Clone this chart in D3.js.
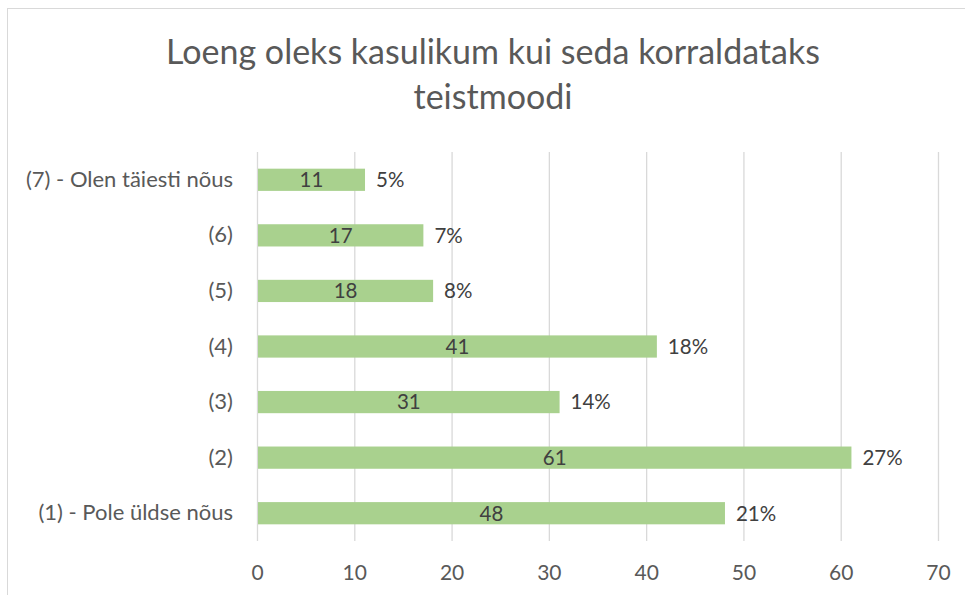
<html>
<head>
<meta charset="utf-8">
<style>
  body { margin: 0; background: #fff; }
  text { font-family: Lato, "Open Sans", sans-serif; }
</style>
</head>
<body>
<script src="https://d3js.org/d3.v7.min.js"></script>
<div id="chart"></div>
<script>
// data
var categories = ["(7) - Olen täiesti nõus", "(6)", "(5)", "(4)", "(3)", "(2)", "(1) - Pole üldse nõus"];
var counts = [11, 17, 18, 41, 31, 61, 48];
var percents = ["5%", "7%", "8%", "18%", "14%", "27%", "21%"];
var xTicks = [0, 10, 20, 30, 40, 50, 60, 70];
var titleLines = ["Loeng oleks kasulikum kui seda korraldataks", "teistmoodi"];

var W = 965, H = 595;
var margin = { top: 152, right: 27, bottom: 54, left: 257 },
    width = W - margin.left - margin.right,
    height = H - margin.top - margin.bottom;

var rows = categories.map(function (c, i) {
    return { cat: c, value: counts[i], pct: percents[i] };
});

var root = d3.select("#chart").append("svg")
    .attr("width", W)
    .attr("height", H);

// chart frame (cut off on the right and bottom in the reference)
root.append("rect")
    .attr("x", 7.5).attr("y", 8.5)
    .attr("width", W + 10).attr("height", H + 10)
    .attr("fill", "none")
    .attr("stroke", "#d9d9d9")
    .attr("stroke-width", 1);

root.selectAll(".title")
    .data(titleLines)
    .enter()
    .append("text")
    .attr("class", "title")
    .attr("x", 493)
    .attr("y", function (d, i) { return 64 + i * 45; })
    .attr("text-anchor", "middle")
    .attr("font-size", 34)
    .attr("fill", "#595959")
    .text(function (d) { return d; });

var svg = root.append("g")
    .attr("transform", "translate(" + margin.left + "," + margin.top + ")");

var x = d3.scaleLinear()
    .domain([0, 70])
    .range([0, 681]);

var y = d3.scaleBand()
    .domain(categories)
    .range([0, 389])
    .paddingInner(0.6)
    .paddingOuter(0.3);

// gridlines
svg.selectAll(".grid")
    .data(xTicks)
    .enter()
    .append("line")
    .attr("x1", function (d) { return x(d) + 0.5; })
    .attr("x2", function (d) { return x(d) + 0.5; })
    .attr("y1", 0)
    .attr("y2", 389)
    .attr("stroke", "#d9d9d9")
    .attr("stroke-width", 1.3);

// x axis labels
var xAxis = svg.append("g")
    .attr("transform", "translate(0,389)")
    .call(d3.axisBottom(x).tickValues(xTicks).tickSize(0).tickPadding(24));
xAxis.select(".domain").remove();
xAxis.selectAll("text")
    .attr("font-size", 21)
    .attr("fill", "#595959")
    .style("font-family", "Lato, sans-serif");

// y axis labels
var yAxis = svg.append("g")
    .call(d3.axisLeft(y).tickSize(0).tickPadding(24));
yAxis.select(".domain").remove();
yAxis.selectAll("text")
    .attr("font-size", 22)
    .attr("fill", "#595959")
    .style("font-family", "Lato, sans-serif");

// bars
svg.selectAll(".bar")
    .data(rows)
    .enter()
    .append("rect")
    .attr("class", "bar")
    .attr("x", x(0) + 1)
    .attr("y", function (d) { return y(d.cat); })
    .attr("width", function (d) { return x(d.value) - x(0); })
    .attr("height", y.bandwidth())
    .attr("fill", "#a9d18e");

// value inside bar
svg.selectAll(".val")
    .data(rows)
    .enter()
    .append("text")
    .attr("x", function (d) { return x(d.value / 2) + 1; })
    .attr("y", function (d) { return y(d.cat) + y.bandwidth() / 2; })
    .attr("dy", "0.36em")
    .attr("text-anchor", "middle")
    .attr("font-size", 20.5)
    .attr("fill", "#404040")
    .text(function (d) { return d.value; });

// percentage after bar
svg.selectAll(".pct")
    .data(rows)
    .enter()
    .append("text")
    .attr("x", function (d) { return x(d.value) + 12; })
    .attr("y", function (d) { return y(d.cat) + y.bandwidth() / 2; })
    .attr("dy", "0.36em")
    .attr("font-size", 20.5)
    .attr("fill", "#404040")
    .text(function (d) { return d.pct; });
</script>
</body>
</html>
